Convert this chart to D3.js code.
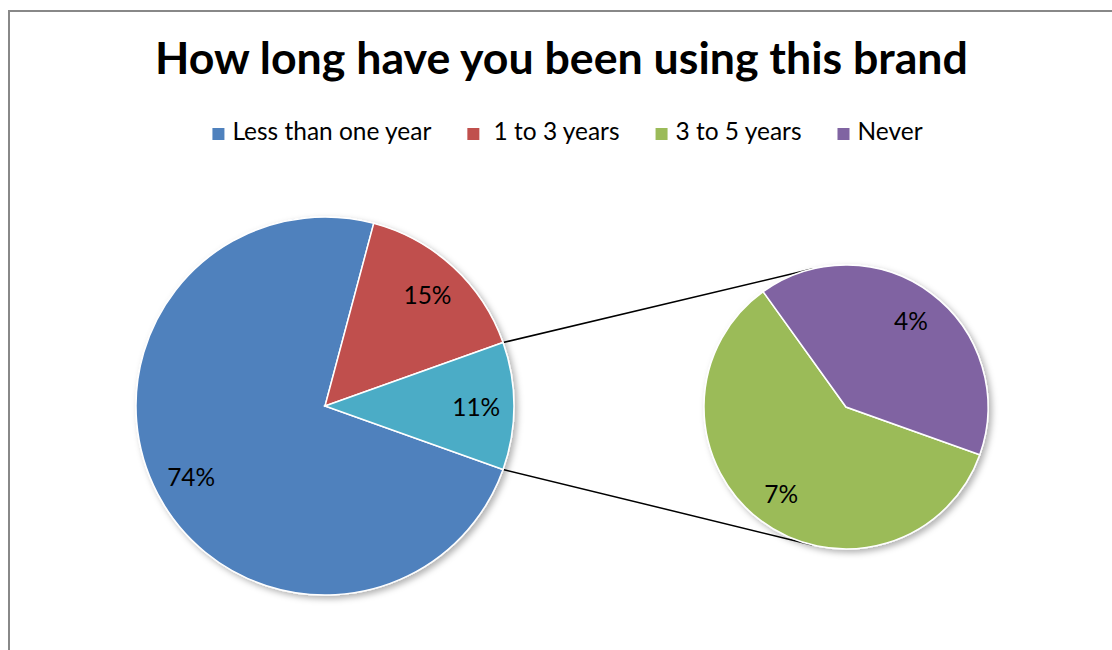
<!DOCTYPE html>
<html>
<head>
<meta charset="utf-8">
<script src="https://d3js.org/d3.v7.min.js"></script>
<style>
body { margin: 0; background: #fff; }
text { font-family: Lato, "Noto Sans", sans-serif; fill: #000; }
</style>
</head>
<body>
<div id="chart"></div>
<script>
// data (percent)
var categories = ["Less than one year", " 1 to 3 years", "3 to 5 years", "Never"];
var values = [73.7, 15.4, 6.5, 4.4];
var colors = ["#4F81BD", "#C0504D", "#9BBB59", "#8064A2"];
var otherColor = "#4BACC6";
var splitAt = 2; // categories from here on go to the second pie
var title = "How long have you been using this brand";

var width = 1112,
	height = 650;

var total = d3.sum(values);
var otherValue = d3.sum(values.slice(splitAt));

var mainData = categories.slice(0, splitAt).map(function(c, i){
	return {name: c, value: values[i], color: colors[i]};
});
mainData.push({name: "Other", value: otherValue, color: otherColor});

var subData = categories.slice(splitAt).map(function(c, i){
	return {name: c, value: values[splitAt + i], color: colors[splitAt + i]};
});

// the "other" slice is centred on 3 o'clock
var startAng = Math.PI / 2 + Math.PI * otherValue / total;

var mainC = {x: 325, y: 406, r: 189},
	subC = {x: 846, y: 407, r: 142};

var pie = d3.pie()
	.sort(null)
	.value(function(d){ return d.value; })
	.startAngle(startAng)
	.endAngle(startAng + 2 * Math.PI);

var svg = d3.select("#chart").append("svg")
	.attr("width", width)
	.attr("height", height);

var defs = svg.append("defs");
defs.append("filter")
	.attr("id", "shadow")
	.attr("x", "-20%").attr("y", "-20%")
	.attr("width", "140%").attr("height", "140%")
	.append("feDropShadow")
		.attr("dx", 3).attr("dy", 3)
		.attr("stdDeviation", 3)
		.attr("flood-color", "#000")
		.attr("flood-opacity", 0.3);

// chart area frame (runs off the right and bottom)
svg.append("rect")
	.attr("x", 9).attr("y", 11)
	.attr("width", 1200).attr("height", 800)
	.attr("fill", "none")
	.attr("stroke", "#888")
	.attr("stroke-width", 2);

// title, sized to the width it has in the picture
var titleText = svg.append("text")
	.attr("x", 561.5)
	.attr("y", 74)
	.attr("text-anchor", "middle")
	.attr("font-weight", "bold")
	.attr("font-size", 36)
	.text(title);
titleText.attr("font-size", 36 * 813 / titleText.node().getComputedTextLength());

// legend
var probe = svg.append("text").attr("font-size", 24).text(categories[0]);
var fontSize = 24 * 199 / probe.node().getComputedTextLength();
probe.remove();

var legend = svg.append("g");
var lx = 0;
categories.forEach(function(c, i){
	var item = legend.append("g").attr("transform", "translate(" + lx + ",0)");
	item.append("rect")
		.attr("x", 0).attr("y", -12)
		.attr("width", 12).attr("height", 12)
		.attr("fill", colors[i]);
	var t = item.append("text")
		.attr("x", 20)
		.attr("y", 0)
		.attr("font-size", fontSize)
		.style("white-space", "pre")
		.text(c);
	lx += 20 + t.node().getComputedTextLength() + 36;
});
lx -= 36;
legend.attr("transform", "translate(" + (567.5 - lx / 2) + ",140)");

// edge of a circle at a d3 pie angle
function edgePoint(c, a){
	return [c.x + c.r * Math.sin(a), c.y - c.r * Math.cos(a)];
}

// tangent point from p onto circle c, upper or lower
function tangent(p, c, upper){
	var dx = p[0] - c.x, dy = p[1] - c.y;
	var d = Math.sqrt(dx * dx + dy * dy);
	var th = Math.atan2(dy, dx);
	var al = Math.acos(c.r / d);
	var t1 = [c.x + c.r * Math.cos(th + al), c.y + c.r * Math.sin(th + al)];
	var t2 = [c.x + c.r * Math.cos(th - al), c.y + c.r * Math.sin(th - al)];
	if (upper) return t1[1] < t2[1] ? t1 : t2;
	return t1[1] > t2[1] ? t1 : t2;
}

var mainArcs = pie(mainData);
var otherArc = mainArcs[mainArcs.length - 1];

// connector lines
var topP = edgePoint(mainC, otherArc.startAngle),
	botP = edgePoint(mainC, otherArc.endAngle);
[[topP, tangent(topP, subC, true)], [botP, tangent(botP, subC, false)]].forEach(function(l){
	svg.append("line")
		.attr("x1", l[0][0]).attr("y1", l[0][1])
		.attr("x2", l[1][0]).attr("y2", l[1][1])
		.attr("stroke", "#000")
		.attr("stroke-width", 1.5);
});

function drawPie(data, c, labelFactor){
	var arc = d3.arc().innerRadius(0).outerRadius(c.r);
	var labelArc = d3.arc().innerRadius(c.r * labelFactor).outerRadius(c.r * labelFactor);
	var g = svg.append("g")
		.attr("transform", "translate(" + c.x + "," + c.y + ")");
	var slices = g.append("g").attr("filter", "url(#shadow)");
	slices.selectAll("path")
		.data(data)
		.enter().append("path")
			.attr("d", arc)
			.attr("fill", function(d){ return d.data.color; })
			.attr("stroke", "#fff")
			.attr("stroke-width", 1.5);
	g.selectAll("text")
		.data(data)
		.enter().append("text")
			.attr("transform", function(d){
				return "translate(" + labelArc.centroid(d) + ")";
			})
			.attr("text-anchor", "middle")
			.attr("dominant-baseline", "central")
			.attr("font-size", fontSize)
			.text(function(d){ return Math.round(d.data.value) + "%"; });
}

drawPie(mainArcs, mainC, 0.8);
drawPie(pie(subData), subC, 0.76);
</script>
</body>
</html>
